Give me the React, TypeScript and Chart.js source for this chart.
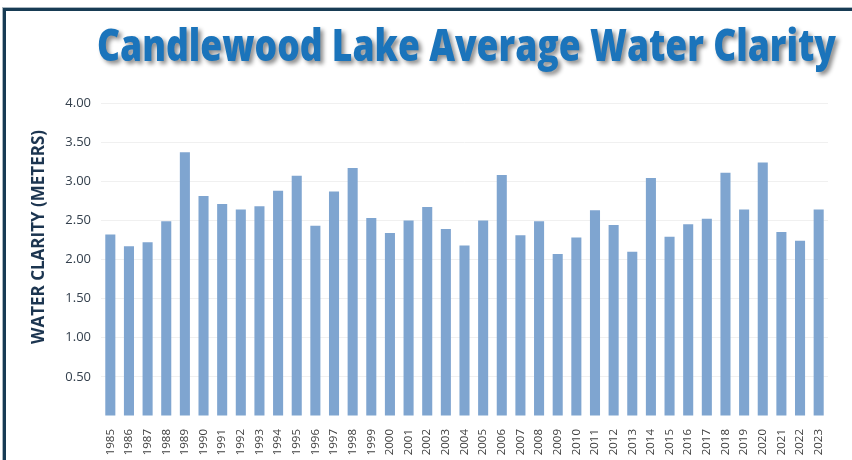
import React, { useEffect, useRef } from "react";
import { Chart, registerables } from "chart.js";

Chart.register(...registerables);

const TITLE = "Candlewood Lake Average Water Clarity";
const Y_TITLE = "WATER CLARITY (METERS)";

const years = [
  "1985", "1986", "1987", "1988", "1989", "1990", "1991", "1992", "1993", "1994",
  "1995", "1996", "1997", "1998", "1999", "2000", "2001", "2002", "2003", "2004",
  "2005", "2006", "2007", "2008", "2009", "2010", "2011", "2012", "2013", "2014",
  "2015", "2016", "2017", "2018", "2019", "2020", "2021", "2022", "2023",
];

const clarity = [
  2.32, 2.17, 2.22, 2.49, 3.37, 2.81, 2.71, 2.64, 2.68, 2.88,
  3.07, 2.43, 2.87, 3.17, 2.53, 2.34, 2.50, 2.67, 2.39, 2.18,
  2.50, 3.08, 2.31, 2.49, 2.07, 2.28, 2.63, 2.44, 2.10, 3.04,
  2.29, 2.45, 2.52, 3.11, 2.64, 3.24, 2.35, 2.24, 2.64,
];

const yMin = 0;
const yMax = 4;
const yStep = 0.5;

const decor = {
  id: "decor",
  beforeDraw(chart: any) {
    const ctx = chart.ctx;
    const w = chart.width;
    const h = chart.height;
    ctx.save();
    ctx.fillStyle = "#ffffff";
    ctx.fillRect(0, 0, w, h);
    ctx.fillStyle = "#a9b6bf";
    ctx.fillRect(2, 7, w - 2, 1);
    ctx.fillRect(2, 7, 1, h - 7);
    ctx.fillStyle = "#173b54";
    ctx.fillRect(3, 8, w - 3, 3);
    ctx.fillRect(3, 8, 3, h - 8);
    ctx.restore();
  },
  afterDraw(chart: any) {
    const ctx = chart.ctx;
    ctx.save();
    ctx.font = '800 45px "Open Sans"';
    const m = ctx.measureText(TITLE).width;
    const target = 739;
    ctx.translate(466.5, 0);
    ctx.scale(target / m, 1);
    ctx.shadowColor = "rgba(0,0,0,0.45)";
    ctx.shadowOffsetX = 3;
    ctx.shadowOffsetY = 3;
    ctx.shadowBlur = 4;
    ctx.textAlign = "center";
    ctx.textBaseline = "alphabetic";
    ctx.fillStyle = "#1b74bb";
    ctx.fillText(TITLE, 0, 61);
    ctx.restore();

    ctx.save();
    ctx.translate(39, 237);
    ctx.rotate(-Math.PI / 2);
    ctx.font = 'bold 17px "Open Sans"';
    ctx.textAlign = "center";
    ctx.textBaseline = "middle";
    ctx.fillStyle = "#1c3550";
    ctx.fillText(Y_TITLE, 0, 0);
    ctx.restore();
  },
};

export default function App() {
  const ref = useRef<HTMLCanvasElement | null>(null);

  useEffect(() => {
    if (!ref.current) return;
    const chart = new Chart(ref.current, {
      type: "bar",
      data: {
        labels: years,
        datasets: [
          {
            label: "Water clarity",
            data: clarity,
            backgroundColor: "#7fa5d0",
            borderWidth: 0,
            categoryPercentage: 1,
            barPercentage: 0.54,
          },
        ],
      },
      options: {
        responsive: false,
        animation: false,
        devicePixelRatio: 1,
        layout: { padding: { left: 0, right: 24, top: 103, bottom: 0 } },
        plugins: {
          legend: { display: false },
          tooltip: { enabled: false },
          title: { display: false },
        },
        scales: {
          x: {
            grid: { display: false },
            border: { display: false },
            ticks: {
              minRotation: 90,
              maxRotation: 90,
              autoSkip: false,
              padding: 5,
              color: "#404040",
              font: { family: '"Open Sans"', size: 11.5 },
            },
            afterFit(scale: any) {
              scale.height = 44;
            },
          },
          y: {
            min: yMin,
            max: yMax,
            border: { display: false },
            grid: {
              drawTicks: false,
              color: (c: any) => (c.tick && c.tick.value === 0 ? "rgba(0,0,0,0)" : "#f0f0f0"),
            },
            ticks: {
              stepSize: yStep,
              padding: 10,
              color: "#34404d",
              font: { family: '"Open Sans"', size: 13 },
              callback: (v: any) => (Number(v) === 0 ? "" : Number(v).toFixed(2)),
            },
            afterFit(scale: any) {
              scale.width = 101;
            },
          },
        },
      },
      plugins: [decor],
    });
    return () => chart.destroy();
  }, []);

  return (
    <div style={{ position: "absolute", left: 0, top: 0, width: 852, height: 460 }}>
      <canvas ref={ref} width={852} height={460} />
    </div>
  );
}
